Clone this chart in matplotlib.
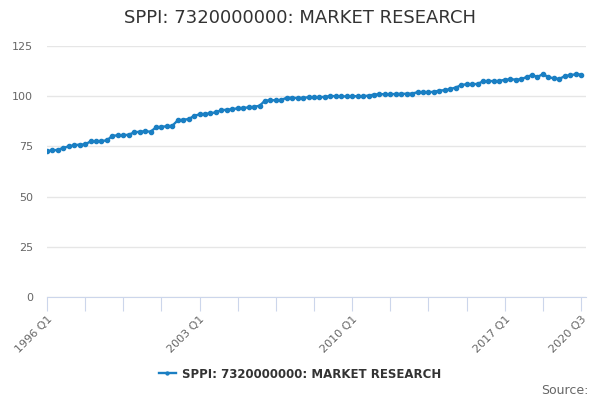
import numpy as np
import matplotlib
matplotlib.use("Agg")
import matplotlib.pyplot as plt

# quarterly index, 1996 Q1 .. 2020 Q3
years = list(range(1996, 2021))
quarters = [f"{y} Q{q}" for y in years for q in range(1, 5)][:99]

values = [
    72.7, 73.0, 73.3, 74.3,
    75.0, 75.6, 75.9, 76.0,
    77.5, 77.6, 77.7, 78.0,
    80.3, 80.5, 80.6, 80.8,
    82.0, 82.3, 82.6, 82.3,
    84.5, 84.8, 85.0, 85.3,
    88.0, 88.3, 88.6, 90.2,
    91.0, 91.2, 91.5, 92.0,
    93.0, 93.3, 93.5, 94.0,
    94.2, 94.4, 94.8, 95.2,
    97.8, 98.0, 98.0, 98.1,
    99.3, 99.2, 99.1, 99.2,
    99.5, 99.6, 99.5, 99.7,
    100.1, 100.0, 99.9, 99.9,
    100.0, 100.0, 100.0, 100.3,
    100.8, 101.0, 101.0, 101.0,
    101.1, 101.2, 101.2, 101.3,
    102.0, 102.1, 102.0, 102.2,
    102.8, 103.0, 103.6, 104.3,
    105.5, 106.0, 106.0, 106.1,
    107.4, 107.6, 107.5, 107.6,
    108.2, 108.4, 108.3, 108.4,
    109.6, 110.5, 109.6, 111.0,
    109.5, 108.9, 108.6, 110.0,
    110.5, 110.9, 110.8,
]

series_name = "SPPI: 7320000000: MARKET RESEARCH"
line_color = "#1a7fc3"

fig = plt.figure(figsize=(6, 4), dpi=100)
ax = fig.add_axes([47 / 600, 1 - 297 / 400, (586 - 47) / 600, (297 - 46) / 400])

x = np.arange(len(values))
ax.plot(x, values, color=line_color, lw=1.7, marker="o", ms=3,
        label=series_name)

ax.set_ylim(0, 125)
ax.set_xlim(0, len(values) - 1 + 0.9)
ax.set_yticks([0, 25, 50, 75, 100, 125])
ax.grid(axis="y", color="#e6e6e6", lw=1)
ax.set_axisbelow(True)

ticks = list(range(0, len(values), 7))
ax.set_xticks(ticks)
labels = []
for t in ticks:
    if t % 28 == 0 or t == len(values) - 1:
        labels.append(quarters[t])
    else:
        labels.append("")
ax.set_xticklabels(labels, rotation=45, ha="right", rotation_mode="anchor")

for s in ["top", "right", "left"]:
    ax.spines[s].set_visible(False)
ax.spines["bottom"].set_color("#ccd6eb")
ax.tick_params(axis="x", length=10, color="#ccd6eb", labelsize=8,
               labelcolor="#666666", pad=2)
ax.tick_params(axis="y", length=0, labelsize=8, labelcolor="#666666", pad=10)

fig.text(0.5, 1 - 18 / 400, series_name, ha="center", va="center",
         fontsize=13, color="#333333")

leg = fig.legend(loc="center", bbox_to_anchor=(0.5, 1 - 374 / 400),
                 frameon=False, fontsize=8.5, handlelength=1.5,
                 markerscale=0.7, handletextpad=0.5)
for t in leg.get_texts():
    t.set_fontweight("bold")
    t.set_color("#333333")

fig.text(589 / 600, 1 - 391 / 400, "Source:", ha="right", va="center",
         fontsize=9, color="#666666")

fig.savefig("out.png", dpi=100)
